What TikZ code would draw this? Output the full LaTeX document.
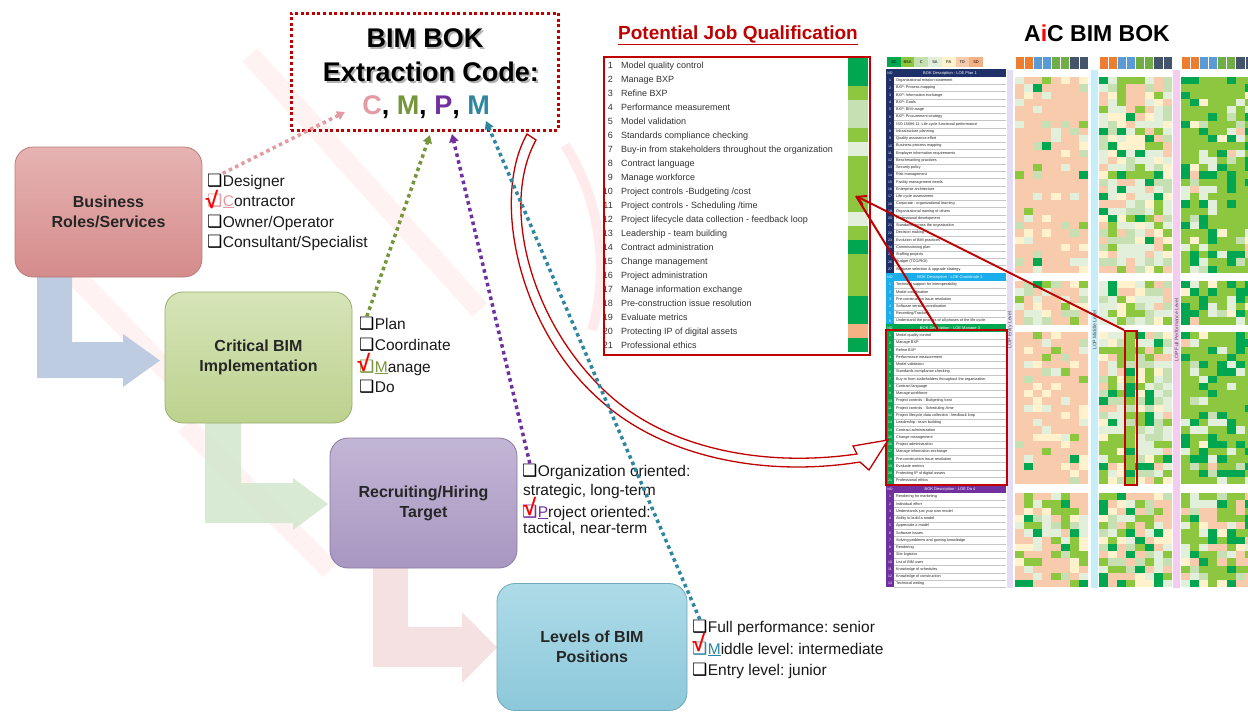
\documentclass[tikz,border=0pt]{standalone}
\usepackage{fontspec}
\setmainfont{Liberation Sans}
\newfontfamily\dvs{DejaVu Sans}
\usetikzlibrary{arrows.meta,calc}
\frenchspacing
\definecolor{dred}{HTML}{C00000}
\definecolor{cSal}{HTML}{F8CBAD}
\definecolor{cYel}{HTML}{FFF2CC}
\definecolor{cPg}{HTML}{E2EFDA}
\definecolor{cLg}{HTML}{C6E0B4}
\definecolor{cMg}{HTML}{8DC63F}
\definecolor{cDg}{HTML}{00A650}
\definecolor{cOr}{HTML}{F4B183}
\definecolor{kPink}{HTML}{E49AA3}
\definecolor{kGreen}{HTML}{76963C}
\definecolor{kPurple}{HTML}{7030A0}
\definecolor{kTeal}{HTML}{2E86A0}
\definecolor{tnavy}{HTML}{1F3068}
\definecolor{tcyan}{HTML}{1AAEEA}
\definecolor{tgreen}{HTML}{00A650}
\definecolor{tpurple}{HTML}{7030A0}
\definecolor{hOr}{HTML}{ED7D31}
\definecolor{hBl}{HTML}{5B9BD5}
\definecolor{hGr}{HTML}{70AD47}
\definecolor{hSl}{HTML}{44546A}
\definecolor{bAt}{HTML}{E6B3B2}\definecolor{bAb}{HTML}{D48C8B}\definecolor{bAd}{HTML}{B97B7A}
\definecolor{bBt}{HTML}{D6E4B8}\definecolor{bBb}{HTML}{BCD28E}\definecolor{bBd}{HTML}{98AE6E}
\definecolor{bCt}{HTML}{C2B6D6}\definecolor{bCb}{HTML}{A897C1}\definecolor{bCd}{HTML}{8A7BA3}
\definecolor{bDt}{HTML}{AEDBE8}\definecolor{bDb}{HTML}{8CC8DA}\definecolor{bDd}{HTML}{6FA9BA}
\definecolor{fA}{HTML}{B7C7DF}
\definecolor{fB}{HTML}{D4E8CF}
\definecolor{fC}{HTML}{F5DEDE}
\definecolor{sLav}{HTML}{E4DDF4}
\definecolor{sCy}{HTML}{C5EEF8}
\definecolor{sPk}{HTML}{F4CDEE}

\newcommand\pickc[6]{\ifnum#1<#2 \def\cc{cSal}\else\ifnum#1<#3 \def\cc{cYel}\else\ifnum#1<#4 \def\cc{cPg}\else\ifnum#1<#5 \def\cc{cLg}\else\ifnum#1<#6 \def\cc{cMg}\else\def\cc{cDg}\fi\fi\fi\fi\fi}
\newcommand\heatsec[8]{%
 \foreach \r in {1,...,#3}{\foreach \c in {0,...,7}{%
   \pgfmathrandominteger{\rn}{1}{100}%
   \pickc{\rn}{#4}{#5}{#6}{#7}{#8}%
   \fill[\cc] ({#1+9.1*\c},{#2+7.25*(\r-1)}) rectangle ++(9.1,7.25);}}}
\newcommand\tabsec[5]{%
 \fill[#3] (886,{#2-8}) rectangle (1006,#2);
 \node[tno] (#1h) at (890,{#2-4}) {NO};
 \node[thd] (#1d) at (950,{#2-4}) {#4};
 \foreach \t [count=\k] in {#5}{%
  \fill[#3] (886,{#2+7.25*(\k-1)}) rectangle ++(8,7.25);
  \draw[gray!45,line width=0.3pt] (894,{#2+7.25*\k}) -- (1006,{#2+7.25*\k});
  \node[tno] (#1n\k) at (890,{#2+7.25*(\k-0.5)}) {\k};
  \node[ttx] (#1t\k) at (896,{#2+7.25*(\k-0.5)}) {\t};
 }}

\begin{document}
\begin{tikzpicture}[x=1pt,y=-1pt,
  flowbox/.style={rounded corners=18pt, line width=0.8pt, minimum width=187pt, minimum height=130pt, align=center, inner sep=0, font=\bfseries\fontsize{16}{20}\selectfont, text=black!85},
  cb/.style={font=\dvs\fontsize{17}{17}\selectfont, inner sep=0, anchor=base west},
  lt/.style={font=\fontsize{15.5}{18}\selectfont, inner sep=0, anchor=base west, text=black!90},
  chk/.style={font=\bfseries\fontsize{23}{23}\selectfont, text=red, inner sep=0},
  dotc/.style={line width=3.5pt, dash pattern=on 3.5pt off 3.5pt, -{Triangle[length=8pt,width=9pt]}},
  lnum/.style={font=\fontsize{9}{10}\selectfont, inner sep=0, anchor=base east, text=black!80},
  ltxt/.style={font=\fontsize{9}{10}\selectfont, inner sep=0, anchor=base west, text=black!80},
  tno/.style={font=\fontsize{3.5}{4}\selectfont, text=white, inner sep=0},
  thd/.style={font=\fontsize{4}{4.5}\selectfont, text=white, inner sep=0},
  ttx/.style={font=\fontsize{3.8}{4.3}\selectfont, anchor=west, inner sep=0, text=black!85},
  rot/.style={font=\fontsize{5}{5}\selectfont, rotate=90, inner sep=0, text=black!70},
  big/.style={font=\bfseries\fontsize{27}{30}\selectfont, inner sep=0}
]
\useasboundingbox (0,0) rectangle (1248,713);
\fill[white] (0,0) rectangle (1248,713);

% faint watermark
\begin{scope}[red, opacity=0.05, line width=20pt]
\draw (250,55) -- (480,310);
\draw (55,255) -- (205,410);
\draw (185,425) -- (330,570);
\end{scope}
\draw[red, opacity=0.08, line width=10pt] (565,145) .. controls (600,200) and (610,270) .. (592,330);

% flow arrows
\fill[fA, opacity=0.9] (37,265) -- (72,265) -- (72,342) -- (123,342) -- (123,334) -- (160,360.5) -- (123,387) -- (123,378) -- (37,378) -- cycle;
\fill[fB, opacity=0.9] (205,415) -- (241,415) -- (241,483) -- (293,483) -- (293,478) -- (328,504) -- (293,530) -- (293,523) -- (205,523) -- cycle;
\fill[fC, opacity=0.9] (373,560) -- (408,560) -- (408,627) -- (462,627) -- (462,612) -- (497,647.5) -- (462,683) -- (462,667) -- (373,667) -- cycle;

% boxes
\node[flowbox, draw=bAd, top color=bAt, bottom color=bAb] (b1) at (108.5,212) {Business\\Roles/Services};
\node[flowbox, draw=bBd, top color=bBt, bottom color=bBb, minimum height=131pt] (b2) at (258.5,357.5) {Critical BIM\\Implementation};
\node[flowbox, draw=bCd, top color=bCt, bottom color=bCb] (b3) at (423.5,503) {Recruiting/Hiring\\Target};
\node[flowbox, draw=bDd, top color=bDt, bottom color=bDb, minimum width=190pt, minimum height=127pt] (b4) at (592,647) {Levels of BIM\\Positions};

% check lists
\node[cb] (c11) at (207,186) {❑}; \node[lt] (t11) at (c11.base east) {Designer};
\node[cb, text=kPink] (c12) at (207,206) {❑}; \node[lt] (t12) at (c12.base east) {\textcolor{kPink}{\underline{C}}ontractor};
\node[cb] (c13) at (207,227) {❑}; \node[lt] (t13) at (c13.base east) {Owner/Operator};
\node[cb] (c14) at (207,247) {❑}; \node[lt] (t14) at (c14.base east) {Consultant/Specialist};
\node[chk] (k12) at (212,200) {√};

\node[cb] (c21) at (359,329) {❑}; \node[lt] (t21) at (c21.base east) {Plan};
\node[cb] (c22) at (359,350) {❑}; \node[lt] (t22) at (c22.base east) {Coordinate};
\node[cb, text=kGreen] (c23) at (359,372) {❑}; \node[lt] (t23) at (c23.base east) {\textcolor{kGreen}{\underline{M}}anage};
\node[cb] (c24) at (359,392) {❑}; \node[lt] (t24) at (c24.base east) {Do};
\node[chk] (k23) at (364,363) {√};

\node[cb] (c31) at (522,476) {❑}; \node[lt] (t31) at (c31.base east) {Organization oriented:};
\node[lt] (t31b) at (523,495.5) {strategic, long-term};
\node[cb, text=kPurple] (c32) at (522,517) {❑}; \node[lt] (t32) at (c32.base east) {\textcolor{kPurple}{\underline{P}}roject oriented:};
\node[lt] (t32b) at (523,533.5) {tactical, near-term};
\node[chk] (k32) at (530,507) {√};

\node[cb] (c41) at (692,632) {❑}; \node[lt] (t41) at (c41.base east) {Full performance: senior};
\node[cb, text=kTeal] (c42) at (692,654) {❑}; \node[lt] (t42) at (c42.base east) {\textcolor{kTeal}{\underline{M}}iddle level: intermediate};
\node[cb] (c43) at (692,675) {❑}; \node[lt] (t43) at (c43.base east) {Entry level: junior};
\node[chk] (k42) at (699,643) {√};

% top box
\node[draw=dred, line width=3pt, dash pattern=on 3pt off 2.6pt, minimum width=267pt, minimum height=117pt, inner sep=0] (topbox) at (424.5,71.5) {};
\node[big, text=black!30] at (427,40) {BIM BOK};
\node[big] (bb) at (425,38) {BIM BOK};
\node[big, text=black!30] at (433,74) {Extraction Code:};
\node[big] (ec) at (431,72) {Extraction Code:};
\node[big] (code) at (426,107) {\textcolor{kPink}{C}, \textcolor{kGreen}{M}, \textcolor{kPurple}{P}, \textcolor{kTeal}{M}};

% potential job qualification
\node[font=\bfseries\fontsize{19}{21}\selectfont, text=dred, inner sep=0] (pjq) at (738,35) {\underline{Potential Job Qualification}};
\foreach \cl [count=\k] in {cDg,cDg,cMg,cLg,cLg,cMg,cPg,cMg,cMg,cMg,cMg,cPg,cMg,cDg,cMg,cMg,cMg,cDg,cDg,cOr,cDg}
  \fill[\cl] (848,{58+14*(\k-1)}) rectangle (868,{58+14*\k});
\foreach \t [count=\k] in {Model quality control, Manage BXP, Refine BXP, Performance measurement, Model validation, Standards compliance checking, Buy-in from stakeholders throughout the organization, Contract language, Manage workforce, Project controls -Budgeting /cost, Project controls - Scheduling /time, Project lifecycle data collection - feedback loop, Leadership - team building, Contract administration, Change management, Project administration, Manage information exchange, Pre-construction issue resolution, Evaluate metrics, Protecting IP of digital assets, Professional ethics}{
  \node[lnum] (ln\k) at (613,{58+14*(\k-1)+10.3}) {\k};
  \node[ltxt] (lt\k) at (621,{58+14*(\k-1)+10.3}) {\t};
}
\node[draw=dred, line width=2pt, minimum width=266pt, minimum height=298pt, inner sep=0] (listbox) at (737,206) {};

% AiC BIM BOK title
\node[font=\bfseries\fontsize{23}{25}\selectfont, inner sep=0] (aic) at (1097,33) {A\textcolor{red}{i}C BIM BOK};

% matrix: legend
\foreach \c/\cl/\lab in {0/cDg/SC,1/cMg/BSA,2/cLg/C,3/cPg/SA,4/cYel/PA,5/cSal/TD,6/cOr/SD}{
  \fill[\cl] ({887+13.7*\c},57) rectangle ++(13.7,10);
  \node[font=\fontsize{4}{4}\selectfont, inner sep=0] (lg\c) at ({887+13.7*(\c+0.5)},62) {\lab};
}
% matrix: table
\tabsec{p}{77}{tnavy}{BOK Description - LOE Plan 1}{Organizational mission statement, BXP: Process mapping, BXP: Information exchange, BXP: Goals, BXP: BIM usage, BXP: Procurement strategy, ISO 15686-11: Life cycle functional performance, Infrastructure planning, Quality assurance effort, Business process mapping, Employer information requirements, Benchmarking practices, Security policy, Risk management, Facility management needs, Enterprise architecture, Life cycle assessment, Corporate - organizational learning, Organizational training of others, Professional development, Standards across the organization, Decision making, Evolution of BIM practices, Commissioning plan, Staffing projects, Budget (TCO/ROI), Software selection \& upgrade strategy}
\tabsec{o}{281}{tcyan}{BOK Description - LOE Coordinate 2}{Technical support for interoperability, Model coordination, Pre-construction issue resolution, Software version coordination, Recording/Tracking, Understand the process of all phases of the life cycle}
\tabsec{m}{332}{tgreen}{BOK Description - LOE Manage 3}{Model quality control, Manage BXP, Refine BXP, Performance measurement, Model validation, Standards compliance checking, Buy-in from stakeholders throughout the organization, Contract language, Manage workforce, Project controls - Budgeting /cost, Project controls - Scheduling /time, Project lifecycle data collection - feedback loop, Leadership - team building, Contract administration, Change management, Project administration, Manage information exchange, Pre-construction issue resolution, Evaluate metrics, Protecting IP of digital assets, Professional ethics}
\tabsec{d}{493}{tpurple}{BOK Description - LOE Do 4}{Rendering for marketing, Individual effort, Understands just your own model, Ability to build a model, Appreciate a model, Software issues, Solving problems and gaining knowledge, Rendering, Site logistics, List of BIM uses, Knowledge of schedules, Knowledge of construction, Technical writing}

% matrix: strips
\fill[sLav] (1007,70) rectangle (1013,588);
\fill[sCy] (1091,70) rectangle (1098,588);
\fill[sPk] (1173,70) rectangle (1180,588);
\node[rot] (r1) at (1010,330) {LOP Entry Level};
\node[rot] (r2) at (1094.5,330) {LOP Middle Level};
\node[rot] (r3) at (1176.5,330) {LOP Full Performance Level};

% matrix: column headers
\foreach \bx in {1015,1099,1181}{
  \foreach \c/\cl in {0/hOr,1/hOr,2/hBl,3/hBl,4/hGr,5/hGr,6/hSl,7/hSl}{
    \fill[\cl] ({\bx+9.1*\c},57) rectangle ++(9.1,12);
    \draw[white, line width=0.4pt] ({\bx+9.1*\c},57) -- ++(0,12);
  }
}
% matrix: heat cells
\pgfmathsetseed{4242}
\heatsec{1015}{77}{27}{72}{82}{90}{95}{98}
\heatsec{1015}{281}{6}{45}{60}{80}{90}{96}
\heatsec{1015}{332}{21}{68}{80}{88}{93}{97}
\heatsec{1015}{493}{13}{40}{50}{60}{66}{90}
\heatsec{1099}{77}{27}{20}{35}{62}{78}{93}
\heatsec{1099}{281}{6}{12}{25}{58}{76}{92}
\heatsec{1099}{332}{21}{12}{25}{50}{68}{88}
\heatsec{1099}{493}{13}{28}{38}{55}{66}{88}
\heatsec{1181}{77}{27}{3}{8}{18}{23}{75}
\heatsec{1181}{281}{6}{2}{6}{14}{18}{70}
\heatsec{1181}{332}{21}{2}{6}{14}{18}{78}
\heatsec{1181}{493}{13}{20}{28}{40}{45}{82}
\foreach \r in {1,...,21}{\pgfmathrandominteger{\rn}{1}{100}\pickc{\rn}{0}{0}{0}{6}{62}\fill[\cc] (1126.3,{332+7.25*(\r-1)}) rectangle ++(9.1,7.25);}

% red highlight boxes and pointer lines
\node[draw=dred, line width=2pt, minimum width=12pt, minimum height=154pt, inner sep=0] (colbox) at (1131,408) {};
\node[draw=dred, line width=2pt, minimum width=121pt, minimum height=155pt, inner sep=0] (mbox) at (946.5,407.5) {};
\coordinate (rtip) at (856,196);
\draw[dred, line width=2pt, -{Straight Barb[length=8pt,width=10pt]}] (colbox.north west) -- (rtip);
\draw[dred, line width=2pt] (mbox.north) ++(-9,0) coordinate (mtop) (mtop) -- (rtip);

% big curved outline arrow
\draw[dred, line width=1.3pt, fill=white, line join=miter]
  (527,134) .. controls (490,200) and (520,330) .. (600,400)
  .. controls (660,455) and (760,478) .. (860,462)
  -- (869,470) -- (888,440) -- (853,446) -- (857,454)
  .. controls (760,468) and (665,447) .. (607,393)
  .. controls (530,322) and (500,205) .. (536,140) -- cycle;

% dotted connectors
\coordinate (pinkTip) at (345,112);
\coordinate (greenTip) at (430,135);
\coordinate (purpleTip) at (452,134);
\coordinate (tealTip) at (486,121);
\draw[dotc, kPink] (c11.north east) -- (pinkTip);
\draw[dotc, kGreen] (c21.north) -- (greenTip);
\draw[dotc, kPurple] (c31.north) -- (purpleTip);
\draw[dotc, kTeal] (c41.north) -- (tealTip);
\end{tikzpicture}
\end{document}
